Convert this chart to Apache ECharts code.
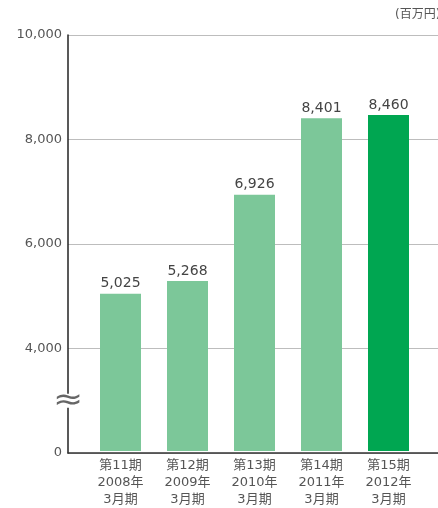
<!DOCTYPE html>
<html>
<head>
<meta charset="utf-8">
<script src="https://cdn.jsdelivr.net/npm/echarts@6/dist/echarts.min.js"></script>
<style>
  html, body { margin: 0; padding: 0; background: #fff; }
  #chart { width: 438px; height: 508px; }
</style>
</head>
<body>
<div id="chart"></div>
<script>
// Fiscal periods and net sales (百万円)
const categories = [
  '第11期\n2008年\n3月期',
  '第12期\n2009年\n3月期',
  '第13期\n2010年\n3月期',
  '第14期\n2011年\n3月期',
  '第15期\n2012年\n3月期'
];
const sales = [5025, 5268, 6926, 8401, 8460];

// Value axis: everything below 4,000 is compressed (axis break); the bottom tick reads 0
const axisBase = 2000;
const axisMax = 10000;
const axisStep = 2000;
const unitLabel = '(百万円)';

const FONT = '"DejaVu Sans", "Noto Sans CJK JP", sans-serif';
const LIGHT = '#7cc799';
const DARK = '#00a651';

// plot frame
const GRID_LEFT = 68, GRID_TOP = 35, GRID_BOTTOM = 55;
const H = 508;

const chart = echarts.init(document.getElementById('chart'));
const fmt = v => v.toLocaleString('en-US');

// y of the break mark, halfway between the base and the first real tick
const plotH = H - GRID_TOP - GRID_BOTTOM;
const breakValue = (axisBase + 4000) / 2;
const breakY = GRID_TOP + plotH * (1 - (breakValue - axisBase) / (axisMax - axisBase));

chart.setOption({
  animation: false,
  grid: [
    { left: GRID_LEFT, right: 0, top: GRID_TOP, bottom: GRID_BOTTOM },
    { left: 87, right: 16, top: GRID_TOP, bottom: GRID_BOTTOM }
  ],
  xAxis: [
    {
      gridIndex: 0, type: 'category', data: [''],
      axisLine: { show: true, lineStyle: { color: '#333', width: 1.5 } },
      axisTick: { show: false }, axisLabel: { show: false }, splitLine: { show: false }
    },
    {
      gridIndex: 1, type: 'category', data: categories,
      axisLine: { show: false }, axisTick: { show: false },
      axisLabel: {
        color: '#555', fontFamily: FONT, fontSize: 13, lineHeight: 17, margin: 6
      }
    }
  ],
  yAxis: [
    {
      gridIndex: 0, type: 'value', min: axisBase, max: axisMax, interval: axisStep,
      axisLine: { show: true, lineStyle: { color: '#222', width: 1.5 } },
      axisTick: { show: false },
      axisLabel: {
        color: '#555', fontFamily: FONT, fontSize: 13, margin: 6,
        formatter: v => v === axisBase ? '0' : fmt(v)
      },
      splitLine: { show: true, lineStyle: { color: '#bdbdbd', width: 1 } }
    },
    {
      gridIndex: 1, type: 'value', min: axisBase, max: axisMax, interval: axisStep,
      axisLine: { show: false }, axisTick: { show: false },
      axisLabel: { show: false }, splitLine: { show: false }
    }
  ],
  series: [{
    type: 'bar',
    xAxisIndex: 1, yAxisIndex: 1,
    barWidth: 41,
    data: sales.map((v, i) => ({
      value: v,
      itemStyle: { color: i === sales.length - 1 ? DARK : LIGHT }
    })),
    label: {
      show: true, position: 'top', distance: 3,
      color: '#444', fontFamily: FONT, fontSize: 14,
      formatter: p => fmt(p.value)
    }
  }],
  graphic: [
    {
      type: 'text', left: 395, top: 9,
      style: { text: unitLabel, fill: '#555', font: '12px ' + FONT }
    },
    {
      type: 'rect', z: 100,
      shape: { x: GRID_LEFT - 3, y: breakY - 7, width: 6, height: 14 },
      style: { fill: '#fff' }
    },
    {
      type: 'text', z: 101, x: GRID_LEFT, y: breakY, scaleX: 1.2,
      style: {
        text: '≈', fill: '#666', font: '30px "DejaVu Sans"',
        align: 'center', verticalAlign: 'middle'
      }
    }
  ]
});
</script>
</body>
</html>
